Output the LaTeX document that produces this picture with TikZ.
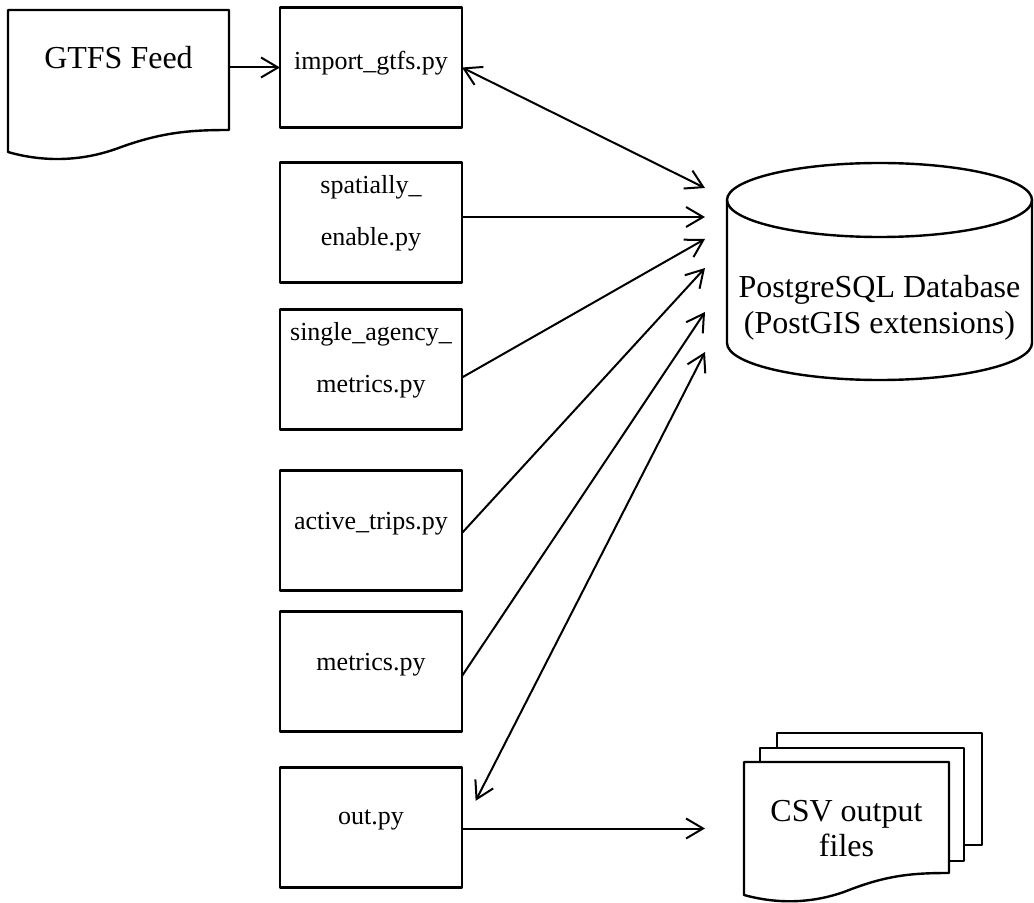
\documentclass[tikz,border=0pt]{standalone}
\usepackage{fontspec}
\setmainfont{Liberation Serif}
\usetikzlibrary{positioning,calc,arrows.meta}
\tikzset{shapeline/.style={draw=black, line width=1.2pt, line join=round}}
\tikzset{pybox/.style={shapeline, rectangle, minimum width=91pt, minimum height=60pt, inner sep=2pt, outer sep=0pt, align=center, text depth=10pt, font=\fontsize{13}{26}\selectfont}}
\tikzset{bigtext/.style={draw=none, rectangle, inner sep=0pt, outer sep=0pt, align=center, font=\fontsize{16}{18}\selectfont}}
\tikzset{arr/.style={draw, ->, line width=1pt}}
\tikzset{>={Straight Barb[length=8.5pt,width=10pt]}}

\begin{document}
\begin{tikzpicture}[x=0.5pt, y=-0.5pt]
	\useasboundingbox (0,0) rectangle (1034,903);
	% scripts
	\node[pybox, text depth=7pt] (imp) at (371,67.5) {import\_gtfs.py};
	\node[pybox, below=17.5pt of imp, text depth=12pt] (spat) {spatially\_\\enable.py};
	\node[pybox, below=13.5pt of spat, text depth=12pt] (single) {single\_agency\_\\metrics.py};
	\node[pybox, below=20.5pt of single] (active) {active\_trips.py};
	\node[pybox, below=10.5pt of active] (metr) {metrics.py};
	\node[pybox, below=18pt of metr] (out) {out.py};
	%
	\node[bigtext, minimum width=110.5pt, minimum height=71pt, text depth=24pt] (feed) at (118.5,81) {GTFS Feed};
	\node[bigtext, minimum width=152.5pt, minimum height=108.5pt, text height=65pt] (db) at (879.5,271.5) {PostgreSQL Database\\(PostGIS extensions)};
	\node[bigtext, minimum width=102.5pt, minimum height=66.5pt, font=\fontsize{16}{17.5}\selectfont] (csv) at (846.5,828.5) {CSV output\\files};
	%
	\draw[shapeline] (feed.north west) -- (feed.north east) -- ($(feed.south east)+(0,-22)$)
		.. controls ($(feed.south east)+(-38,-22)$) and ($(feed.south east)+(-67,-20)$) .. ($(feed.south)+(0,-4)$)
		.. controls ($(feed.south west)+(70,11)$) and ($(feed.south west)+(31,9)$) .. (feed.south west) -- cycle;
	\draw[shapeline] ($(db.north)+(0,37)$) ellipse [x radius=76.25pt, y radius=18.5pt];
	\draw[shapeline] ($(db.north west)+(0,37)$) -- ($(db.south west)+(0,-37)$)
		arc[start angle=180, end angle=360, x radius=76.25pt, y radius=18.5pt] -- ($(db.north east)+(0,37)$);
	\draw[shapeline] ($(csv.north west)+(33,-14)$) -- ++(0,-15) -- ++(205,0) -- ++(0,112) -- ++(-18,0);
	\draw[shapeline] ($(csv.north west)+(16,0)$) -- ++(0,-14) -- ++(204,0) -- ++(0,113) -- ($(csv.south east)+(0,-34)$);
	\draw[shapeline] (csv.north west) -- (csv.north east) -- ($(csv.south east)+(0,-22)$)
		.. controls ($(csv.south east)+(-36,-22)$) and ($(csv.south east)+(-62,-20)$) .. ($(csv.south)+(0,-4)$)
		.. controls ($(csv.south west)+(65,10)$) and ($(csv.south west)+(29,8)$) .. (csv.south west) -- cycle;
	%
	\foreach \n/\dy in {1/-83.5, 2/-54.5, 3/-32.5, 4/-3.5, 5/40.5, 6/80.5}
		\coordinate (in\n) at ($(db.west)+(-22,\dy)$);
	\draw[arr] (feed.east |- imp.west) -- (imp.west);
	\draw[arr, <->] (imp.east) -- (in1);
	\draw[arr] (spat.east |- in2) -- (in2);
	\draw[arr] ($(single.east)+(0,8)$) -- (in3);
	\draw[arr] ($(active.east)+(0,2.5)$) -- (in4);
	\draw[arr] ($(metr.east)+(0,4.5)$) -- (in5);
	\draw[arr, <->, shorten <=15pt] (out.east) -- (in6);
	\draw[arr, shorten >=19.5pt] (out.east |- csv.west) -- (csv.west);
\end{tikzpicture}
\end{document}
